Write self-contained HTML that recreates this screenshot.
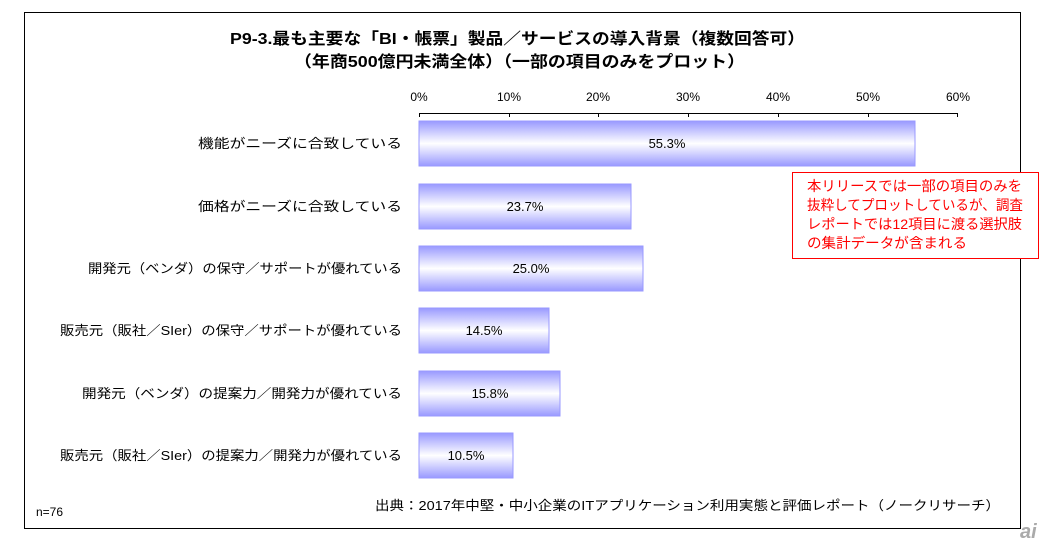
<!DOCTYPE html>
<html><head><meta charset="utf-8"><style>
body{margin:0;background:#fff;}
svg{display:block;font-family:"Liberation Sans","Noto Sans CJK JP",sans-serif;}
</style></head><body>
<svg width="1046" height="546" viewBox="0 0 1046 546">
<defs><linearGradient id="g" x1="0" y1="0" x2="0" y2="1">
<stop offset="0" stop-color="#9999ff"/><stop offset="0.5" stop-color="#ffffff"/><stop offset="1" stop-color="#9999ff"/>
</linearGradient></defs>
<rect x="24.5" y="12.5" width="996" height="516" fill="#fff" stroke="#000" stroke-width="1"/>
<text x="230" y="44" font-size="16" font-weight="bold" textLength="575" lengthAdjust="spacingAndGlyphs">P9-3.最も主要な「BI・帳票」製品／サービスの導入背景（複数回答可）</text>
<text x="294" y="67" font-size="16" font-weight="bold" textLength="451" lengthAdjust="spacingAndGlyphs">（年商500億円未満全体）（一部の項目のみをプロット）</text>
<g font-size="12" text-anchor="middle">
<text x="419" y="101">0%</text><text x="509" y="101">10%</text><text x="598" y="101">20%</text><text x="688" y="101">30%</text><text x="778" y="101">40%</text><text x="868" y="101">50%</text><text x="958" y="101">60%</text>
</g>
<path d="M419 113.5H958M419.5 113v4M509.5 113v4M598.5 113v4M688.5 113v4M778.5 113v4M868.5 113v4M957.5 113v4" stroke="#000" fill="none"/>
<g fill="url(#g)" stroke="#9999ff" stroke-width="1">
<rect x="419" y="121" width="496" height="45"/>
<rect x="419" y="184" width="212" height="45"/>
<rect x="419" y="246" width="224" height="45"/>
<rect x="419" y="308" width="130" height="45"/>
<rect x="419" y="371" width="141" height="45"/>
<rect x="419" y="433" width="94" height="45"/>
</g>
<g font-size="13" text-anchor="middle">
<text x="667" y="148">55.3%</text>
<text x="525" y="211">23.7%</text>
<text x="531" y="273">25.0%</text>
<text x="484" y="335">14.5%</text>
<text x="490" y="398">15.8%</text>
<text x="466" y="460">10.5%</text>
</g>
<g font-size="13" lengthAdjust="spacingAndGlyphs">
<text x="198" y="148" textLength="204" lengthAdjust="spacingAndGlyphs">機能がニーズに合致している</text>
<text x="198" y="211" textLength="204" lengthAdjust="spacingAndGlyphs">価格がニーズに合致している</text>
<text x="88" y="273" textLength="314" lengthAdjust="spacingAndGlyphs">開発元（ベンダ）の保守／サポートが優れている</text>
<text x="60" y="335" textLength="342" lengthAdjust="spacingAndGlyphs">販売元（販社／SIer）の保守／サポートが優れている</text>
<text x="82" y="398" textLength="320" lengthAdjust="spacingAndGlyphs">開発元（ベンダ）の提案力／開発力が優れている</text>
<text x="60" y="460" textLength="342" lengthAdjust="spacingAndGlyphs">販売元（販社／SIer）の提案力／開発力が優れている</text>
</g>
<rect x="792.5" y="172.5" width="246" height="86" fill="#fff" stroke="#ff0000"/>
<g font-size="14" fill="#ff0000">
<text x="807" y="191" textLength="215" lengthAdjust="spacingAndGlyphs">本リリースでは一部の項目のみを</text>
<text x="807" y="210" textLength="216" lengthAdjust="spacingAndGlyphs">抜粋してプロットしているが、調査</text>
<text x="807" y="229" textLength="215" lengthAdjust="spacingAndGlyphs">レポートでは12項目に渡る選択肢</text>
<text x="807" y="248" textLength="160" lengthAdjust="spacingAndGlyphs">の集計データが含まれる</text>
</g>
<text x="375" y="510" font-size="13" textLength="625" lengthAdjust="spacingAndGlyphs">出典：2017年中堅・中小企業のITアプリケーション利用実態と評価レポート（ノークリサーチ）</text>
<text x="36" y="516" font-size="12">n=76</text>
<text x="1020" y="538" font-size="20" font-style="italic" font-weight="bold" fill="#aaa">ai</text>
</svg>
</body></html>
